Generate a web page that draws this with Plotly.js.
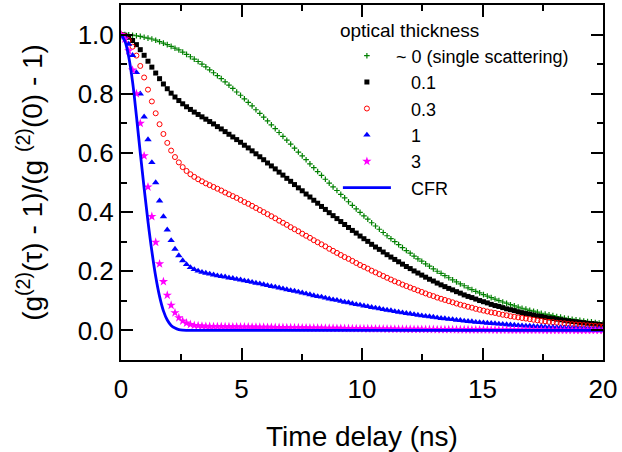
<!DOCTYPE html>
<html>
<head>
<meta charset="utf-8">
<script src="https://cdn.plot.ly/plotly-3.0.1.min.js"></script>
<style>html,body{margin:0;padding:0;background:#fff;}#chart{width:622px;height:452px;}</style>
</head>
<body>
<div id="chart"></div>
<script>
// Time delay (ns), one sample every 0.16 ns
const timeNs = [0.00,0.16,0.32,0.48,0.64,0.80,0.96,1.12,1.28,1.44,1.60,1.76,1.92,2.08,2.24,2.40,2.56,2.72,2.88,3.04,
3.20,3.36,3.52,3.68,3.84,4.00,4.16,4.32,4.48,4.64,4.80,4.96,5.12,5.28,5.44,5.60,5.76,5.92,6.08,6.24,
6.40,6.56,6.72,6.88,7.04,7.20,7.36,7.52,7.68,7.84,8.00,8.16,8.32,8.48,8.64,8.80,8.96,9.12,9.28,9.44,
9.60,9.76,9.92,10.08,10.24,10.40,10.56,10.72,10.88,11.04,11.20,11.36,11.52,11.68,11.84,12.00,12.16,12.32,12.48,12.64,
12.80,12.96,13.12,13.28,13.44,13.60,13.76,13.92,14.08,14.24,14.40,14.56,14.72,14.88,15.04,15.20,15.36,15.52,15.68,15.84,
16.00,16.16,16.32,16.48,16.64,16.80,16.96,17.12,17.28,17.44,17.60,17.76,17.92,18.08,18.24,18.40,18.56,18.72,18.88,19.04,
19.20,19.36,19.52,19.68,19.84,20.00];

// optical thickness ~0 (single scattering)
const od0 = [1.000,1.000,0.999,0.998,0.996,0.994,0.991,0.988,0.985,0.981,
0.976,0.971,0.966,0.960,0.954,0.948,0.941,0.933,0.925,0.917,
0.909,0.900,0.891,0.881,0.871,0.861,0.851,0.840,0.829,0.818,
0.806,0.795,0.783,0.771,0.759,0.746,0.734,0.721,0.708,0.695,
0.682,0.669,0.656,0.643,0.630,0.616,0.603,0.590,0.577,0.563,
0.550,0.537,0.524,0.511,0.498,0.485,0.473,0.460,0.448,0.435,
0.423,0.411,0.399,0.387,0.376,0.364,0.353,0.342,0.331,0.320,
0.310,0.300,0.290,0.280,0.270,0.261,0.251,0.242,0.234,0.225,
0.217,0.208,0.200,0.193,0.185,0.178,0.171,0.164,0.157,0.151,
0.144,0.138,0.132,0.127,0.121,0.116,0.111,0.106,0.101,0.096,
0.092,0.087,0.083,0.079,0.075,0.072,0.068,0.065,0.062,0.058,
0.055,0.053,0.050,0.047,0.045,0.042,0.040,0.038,0.036,0.034,
0.032,0.030,0.029,0.027,0.025,0.024];

// optical thickness 0.1
const od01 = [1.000,0.998,0.991,0.980,0.966,0.949,0.930,0.910,0.890,0.870,
0.851,0.833,0.817,0.802,0.789,0.777,0.766,0.756,0.747,0.738,
0.730,0.722,0.714,0.706,0.698,0.689,0.681,0.672,0.663,0.654,
0.645,0.636,0.626,0.617,0.607,0.597,0.587,0.577,0.566,0.556,
0.546,0.535,0.525,0.514,0.504,0.493,0.482,0.472,0.461,0.451,
0.440,0.430,0.419,0.409,0.398,0.388,0.378,0.368,0.358,0.348,
0.338,0.329,0.319,0.310,0.301,0.291,0.282,0.274,0.265,0.256,
0.248,0.240,0.232,0.224,0.216,0.209,0.201,0.194,0.187,0.180,
0.173,0.167,0.160,0.154,0.148,0.142,0.137,0.131,0.126,0.120,
0.115,0.111,0.106,0.101,0.097,0.093,0.088,0.084,0.081,0.077,
0.073,0.070,0.067,0.063,0.060,0.057,0.055,0.052,0.049,0.047,
0.044,0.042,0.040,0.038,0.036,0.034,0.032,0.030,0.029,0.027,
0.026,0.024,0.023,0.022,0.020,0.019];

// optical thickness 0.3
const od03 = [1.000,0.995,0.981,0.959,0.929,0.894,0.855,0.814,0.774,0.734,
0.697,0.664,0.634,0.608,0.586,0.568,0.552,0.539,0.528,0.519,
0.511,0.504,0.497,0.491,0.485,0.479,0.473,0.466,0.460,0.454,
0.448,0.441,0.434,0.428,0.421,0.414,0.407,0.400,0.393,0.386,
0.379,0.371,0.364,0.357,0.349,0.342,0.335,0.327,0.320,0.313,
0.305,0.298,0.291,0.284,0.276,0.269,0.262,0.255,0.248,0.242,
0.235,0.228,0.221,0.215,0.209,0.202,0.196,0.190,0.184,0.178,
0.172,0.166,0.161,0.155,0.150,0.145,0.140,0.135,0.130,0.125,
0.120,0.116,0.111,0.107,0.103,0.099,0.095,0.091,0.087,0.084,
0.080,0.077,0.073,0.070,0.067,0.064,0.061,0.059,0.056,0.053,
0.051,0.048,0.046,0.044,0.042,0.040,0.038,0.036,0.034,0.032,
0.031,0.029,0.028,0.026,0.025,0.024,0.022,0.021,0.020,0.019,
0.018,0.017,0.016,0.015,0.014,0.013];

// optical thickness 1
const od1 = [1.000,0.990,0.968,0.930,0.872,0.800,0.722,0.645,0.568,0.500,
0.438,0.385,0.340,0.304,0.275,0.253,0.236,0.223,0.213,0.206,
0.201,0.197,0.194,0.191,0.188,0.185,0.183,0.181,0.178,0.176,
0.173,0.171,0.168,0.166,0.163,0.160,0.158,0.155,0.152,0.149,
0.147,0.144,0.141,0.138,0.135,0.133,0.130,0.127,0.124,0.121,
0.118,0.115,0.113,0.110,0.107,0.104,0.102,0.099,0.096,0.094,
0.091,0.088,0.086,0.083,0.081,0.078,0.076,0.074,0.071,0.069,
0.067,0.064,0.062,0.060,0.058,0.056,0.054,0.052,0.050,0.048,
0.047,0.045,0.043,0.041,0.040,0.038,0.037,0.035,0.034,0.032,
0.031,0.030,0.028,0.027,0.026,0.025,0.024,0.023,0.022,0.021,
0.020,0.019,0.018,0.017,0.016,0.015,0.015,0.014,0.013,0.013,
0.012,0.011,0.011,0.010,0.010,0.009,0.009,0.008,0.008,0.007,
0.007,0.0065,0.006,0.006,0.0055,0.005];

// optical thickness 3
const od3 = [1.000,0.985,0.945,0.880,0.800,0.700,0.590,0.485,0.385,0.298,
0.225,0.165,0.119,0.085,0.060,0.043,0.032,0.025,0.020,0.017,
0.016,0.0145,0.0139,0.0132,0.0131,0.0129,0.0128,0.0126,0.0124,0.0123,
0.0121,0.0119,0.0117,0.0116,0.0114,0.0112,0.0110,0.0108,0.0106,0.0104,
0.0102,0.0100,0.0098,0.0096,0.0094,0.0092,0.0090,0.0088,0.0086,0.0084,
0.0083,0.0081,0.0079,0.0077,0.0075,0.0073,0.0071,0.0069,0.0067,0.0065,
0.0063,0.0062,0.0060,0.0058,0.0056,0.0055,0.0053,0.0051,0.0050,0.0048,
0.0047,0.0045,0.0043,0.0042,0.0041,0.0039,0.0038,0.0036,0.0035,0.0034,
0.0032,0.0031,0.0030,0.0029,0.0028,0.0027,0.0026,0.0025,0.0024,0.0023,
0.0022,0.0021,0.0020,0.0019,0.0018,0.0017,0.0017,0.0016,0.0015,0.0014,
0.0014,0.0013,0.0012,0.0012,0.0011,0.0011,0.0010,0.0010,0.0009,0.0009,
0.0008,0.0008,0.0007,0.0007,0.0007,0.0006,0.0006,0.0006,0.0005,0.0005,
0.0005,0.0005,0.0004,0.0004,0.0004,0.0004];

// CFR curve
const cfrT = [0,0.16,0.32,0.48,0.64,0.80,0.96,1.12,1.28,1.44,1.60,1.76,1.92,2.08,2.24,2.40,2.56,2.72,3.0,4.0,6.0,10.0,15.0,20.0];
const cfrV = [1.000,0.978,0.925,0.840,0.725,0.600,0.480,0.368,0.268,0.182,0.115,0.066,0.035,0.017,0.008,0.003,0.001,0.0003,0,0,0,0,0,0];

const legendNames = ['~ 0 (single scattering)', '\u00a0\u00a0\u00a00.1', '\u00a0\u00a0\u00a00.3', '\u00a0\u00a0\u00a01', '\u00a0\u00a0\u00a03', '\u00a0\u00a0\u00a0CFR'];

const FONT = 'Liberation Sans, Arial, sans-serif';

const traces = [
  {x: timeNs, y: od0, name: legendNames[0], type: 'scatter', mode: 'markers',
   marker: {symbol: 'cross-thin', size: 4, color: '#008000', line: {color: '#008000', width: 1.2}}},
  {x: timeNs, y: od01, name: legendNames[1], type: 'scatter', mode: 'markers',
   marker: {symbol: 'square', size: 5, color: '#000000'}},
  {x: timeNs, y: od03, name: legendNames[2], type: 'scatter', mode: 'markers',
   marker: {symbol: 'circle-open', size: 5, color: '#ff0000', line: {color: '#ff0000', width: 1}}},
  {x: timeNs, y: od1, name: legendNames[3], type: 'scatter', mode: 'markers',
   marker: {symbol: 'triangle-up', size: 6.5, color: '#0000ff'}},
  {x: timeNs, y: od3, name: legendNames[4], type: 'scatter', mode: 'markers',
   marker: {symbol: 'star', size: 7, color: '#ff00ff'}},
  {x: cfrT, y: cfrV, name: legendNames[5], type: 'scatter', mode: 'lines',
   line: {color: '#0000ff', width: 2.8, shape: 'spline'}}
];

const axisCommon = {
  showline: true, linecolor: '#000', linewidth: 2, mirror: 'ticks',
  ticks: 'inside', ticklen: 12, tickwidth: 2, tickcolor: '#000',
  showgrid: false, zeroline: false,
  tickfont: {family: FONT, size: 26, color: '#000'}
};

const layout = {
  width: 622, height: 452,
  margin: {l: 121, r: 19, t: 5, b: 92},
  paper_bgcolor: '#fff', plot_bgcolor: '#fff',
  font: {family: FONT, color: '#000'},
  showlegend: true,
  xaxis: Object.assign({}, axisCommon, {
    range: [0, 20], tick0: 0, dtick: 5, ticklabelstandoff: 5,
    minor: {ticks: 'inside', ticklen: 6, tickwidth: 2, tickcolor: '#000', dtick: 2.5, showgrid: false},
    title: {text: 'Time delay (ns)', font: {family: FONT, size: 28, color: '#000'}, standoff: 24}
  }),
  yaxis: Object.assign({}, axisCommon, {
    range: [-0.1, 1.1], tick0: 0, dtick: 0.2, tickformat: '.1f',
    minor: {ticks: 'inside', ticklen: 6, tickwidth: 2, tickcolor: '#000', dtick: 0.1, showgrid: false},
    title: {text: '(g<sup>(2)</sup>(\u03c4) - 1)/(g <sup>(2)</sup>(0) - 1)', font: {family: FONT, size: 28, color: '#000'}, standoff: 27}
  }),
  legend: {
    x: 0.45, xanchor: 'left', y: 0.978, yanchor: 'top',
    bgcolor: 'rgba(0,0,0,0)', borderwidth: 0,
    font: {family: FONT, size: 18, color: '#000'},
    title: {text: 'optical thickness', font: {family: FONT, size: 19, color: '#000'}},
    itemwidth: 48, tracegroupgap: 0
  }
};

Plotly.newPlot('chart', traces, layout, {displayModeBar: false, staticPlot: true});
</script>
</body>
</html>
